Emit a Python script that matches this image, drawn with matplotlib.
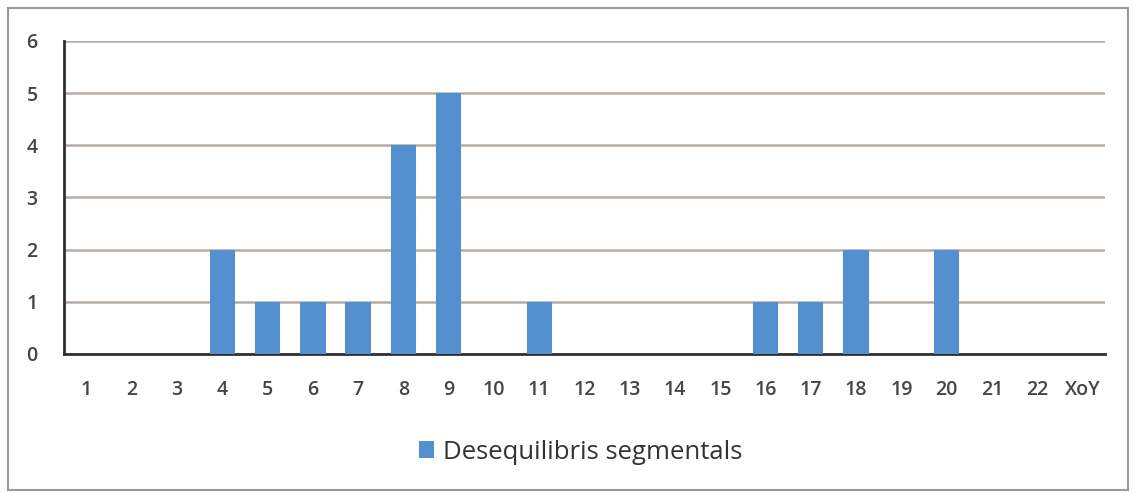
import matplotlib
matplotlib.use('Agg')
import matplotlib.pyplot as plt
from matplotlib.patches import Rectangle

categories = [str(i) for i in range(1, 23)] + ['XoY']
values = [0, 0, 0, 2, 1, 1, 1, 4, 5, 0, 1, 0, 0, 0, 0, 1, 1, 2, 0, 2, 0, 0, 0]
series_name = 'Desequilibris segmentals'

plt.rcParams['font.family'] = ['Open Sans', 'DejaVu Sans']

fig = plt.figure(figsize=(11.34, 4.93), dpi=100)
fig.patch.set_facecolor('white')

# outer chart frame
fig.add_artist(Rectangle((0.007, 0.006), 0.988, 0.978, transform=fig.transFigure,
                         fill=False, edgecolor='#9a9a9a', linewidth=1.5))

ax = fig.add_axes([0.0564, 0.282, 0.918, 0.635])
x = range(len(categories))
bars = ax.bar(x, values, width=0.56, color='#5490d0', label=series_name, zorder=3)

ax.set_xlim(-0.5, len(categories) - 0.5)
ax.set_ylim(0, 6)
ax.set_yticks(range(7))
ax.set_xticks(list(x))
ax.set_xticklabels(categories)
ax.yaxis.grid(True, color='#b5aca5', linewidth=1.8, zorder=0)
ax.set_axisbelow(True)

for s in ['top', 'right']:
    ax.spines[s].set_visible(False)
ax.spines['left'].set_color('#303030')
ax.spines['left'].set_linewidth(2)
ax.spines['bottom'].set_color('#303030')
ax.spines['bottom'].set_linewidth(2)
ax.tick_params(axis='both', length=0, labelsize=14, colors='#454545')
ax.tick_params(axis='y', pad=19)
ax.tick_params(axis='x', pad=19)
for lbl in ax.get_xticklabels() + ax.get_yticklabels():
    lbl.set_fontweight('semibold')

fig.legend(handles=[bars], labels=[series_name], loc='center',
           bbox_to_anchor=(0.512, 0.083), frameon=False, fontsize=18.5,
           handlelength=0.6, handleheight=0.6, handletextpad=0.35,
           labelcolor='#333333')

fig.savefig('out.png', dpi=100)
